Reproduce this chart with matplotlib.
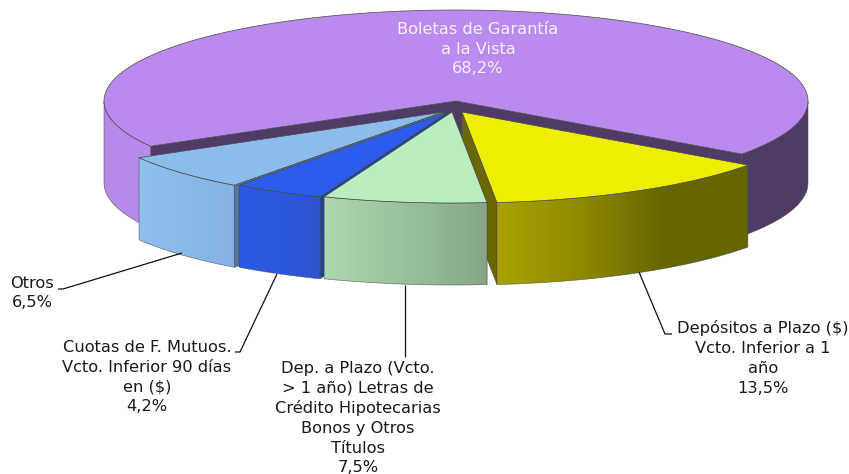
import numpy as np
import matplotlib
matplotlib.use("Agg")
import matplotlib.pyplot as plt
from matplotlib.colors import LinearSegmentedColormap
from matplotlib.patches import Polygon

# ---- data (clockwise from the right end of the large slice)
labels = ["Depósitos a Plazo ($)\nVcto. Inferior a 1\naño",
          "Dep. a Plazo (Vcto.\n> 1 año) Letras de\nCrédito Hipotecarias\nBonos y Otros\nTítulos",
          "Cuotas de F. Mutuos.\nVcto. Inferior 90 días\nen ($)",
          "Otros",
          "Boletas de Garantía\na la Vista"]
shares = [13.5, 7.5, 4.2, 6.5, 68.2]

# ---- styling per slice
top_colors = ["#EEEE00", "#BBEEBE", "#2B5CEE", "#8CBCEC", "#BA8AEE"]
wall_stops = [["#A8A200", "#8E8A00", "#666600", "#666600"],
              ["#ADD8AE", "#A0C8A2", "#92B896", "#86A686"],
              ["#2B59E2", "#2B59E0", "#2C58D8", "#2F55C8"],
              ["#8EC0EE", "#8CBBEC", "#88B6E6", "#85B2E2"],
              ["#B48AE4", "#B88AEC", "#B88AEC", "#B88AEC"]]
cut_colors = ["#6A6600", "#7F9F80", "#1C429F", "#56779A", "#503B66"]
offsets = [(6, 11), (-4, 11), (-8, 11), (-12.7, 11), (0, 0)]
text_colors = ["#1A1A1A", "#1A1A1A", "#1A1A1A", "#1A1A1A", "#F6F0FC"]
text_pos = [(763, 358), (358, 418), (147, 377), (32, 293), (478, 49)]
leaders = [[(639, 272), (665, 334), (672, 334)],
           [(405, 285), (405, 357)],
           [(277, 274), (240, 352), (235, 352)],
           [(182, 253), (63, 289), (58, 289)]]

CX, CY, RX, RY, DEPTH, START = 456, 101, 352, 91, 82, -35.7
EDGE = "#4A4A4A"

fig = plt.figure(figsize=(8.49, 4.74), dpi=100)
ax = fig.add_axes([0, 0, 1, 1])
ax.axis("off")


def arc(x0, y0, a0, a1, n=120):
    t = np.radians(np.linspace(a0, a1, n))
    return np.column_stack([x0 + RX * np.cos(t), y0 - RY * np.sin(t)])


def shaded_wall(pts, stops, z):
    lo, hi = pts[:, 0].min(), pts[:, 0].max()
    cmap = LinearSegmentedColormap.from_list("w", stops)
    poly = Polygon(pts, closed=True, fc="none", ec="none", transform=ax.transData)
    ax.add_patch(poly)
    im = ax.imshow(np.linspace(0, 1, 256)[None, :], cmap=cmap, aspect="auto",
                   extent=(lo, hi, pts[:, 1].max(), pts[:, 1].min()), zorder=z,
                   interpolation="bilinear")
    im.set_clip_path(poly)
    ax.add_patch(Polygon(pts, closed=True, fc="none", ec=EDGE, lw=0.5, alpha=0.7, zorder=z + 0.1))


def wall_between(x0, y0, a0, a1):
    up = arc(x0, y0, a0, a1)
    return np.vstack([up, (up + [0, DEPTH])[::-1]])


def cut_face(x0, y0, a, color, z):
    p = arc(x0, y0, a, a, 2)[0]
    pts = np.array([[x0, y0], p, p + [0, DEPTH], [x0, y0 + DEPTH]])
    ax.add_patch(Polygon(pts, closed=True, fc=color, ec=EDGE, lw=0.4, zorder=z))


bounds = START - np.cumsum([0] + shares[:4]) * 3.6   # clockwise boundaries
draw_order = [4, 0, 3, 2, 1]
for layer, i in enumerate(draw_order):
    z = 2 + layer * 2
    dx, dy = offsets[i]
    x0, y0 = CX + dx, CY + dy
    if i == 4:  # large back slice
        a_hi, a_lo = START, START + shares[4] * 3.6
        cut_face(x0, y0, a_lo, cut_colors[i], z)
        cut_face(x0, y0, a_hi, cut_colors[i], z)
        shaded_wall(wall_between(x0, y0, 180, a_lo), wall_stops[i], z + 0.2)
        shaded_wall(wall_between(x0, y0, a_hi, 0), [cut_colors[i]] * 2, z + 0.2)
        top = np.vstack([[[x0, y0]], arc(x0, y0, a_hi, a_lo, 240)])
    else:
        a_r, a_l = bounds[i], bounds[i + 1]
        # slices left of the vertical show their right cut face, yellow its left one
        cut_face(x0, y0, a_l if i == 0 else a_r, cut_colors[i], z)
        shaded_wall(wall_between(x0, y0, a_l, a_r), wall_stops[i], z + 0.2)
        top = np.vstack([[[x0, y0]], arc(x0, y0, a_r, a_l)])
    ax.add_patch(Polygon(top, closed=True, fc=top_colors[i], ec=EDGE, lw=0.5, zorder=z + 0.5))

for pts in leaders:
    xs, ys = zip(*pts)
    ax.plot(xs, ys, color="#111111", lw=0.9, zorder=20, solid_capstyle="butt")

for lab, s, (tx, ty), c in zip(labels, shares, text_pos, text_colors):
    txt = lab + "\n" + f"{s:.1f}".replace(".", ",") + "%"
    ax.text(tx, ty, txt, ha="center", va="center", color=c, fontsize=11.7,
            family="DejaVu Sans", linespacing=1.39, zorder=21)

ax.set_xlim(0, 849)
ax.set_ylim(474, 0)
fig.savefig("out.png", dpi=100, facecolor="white")
